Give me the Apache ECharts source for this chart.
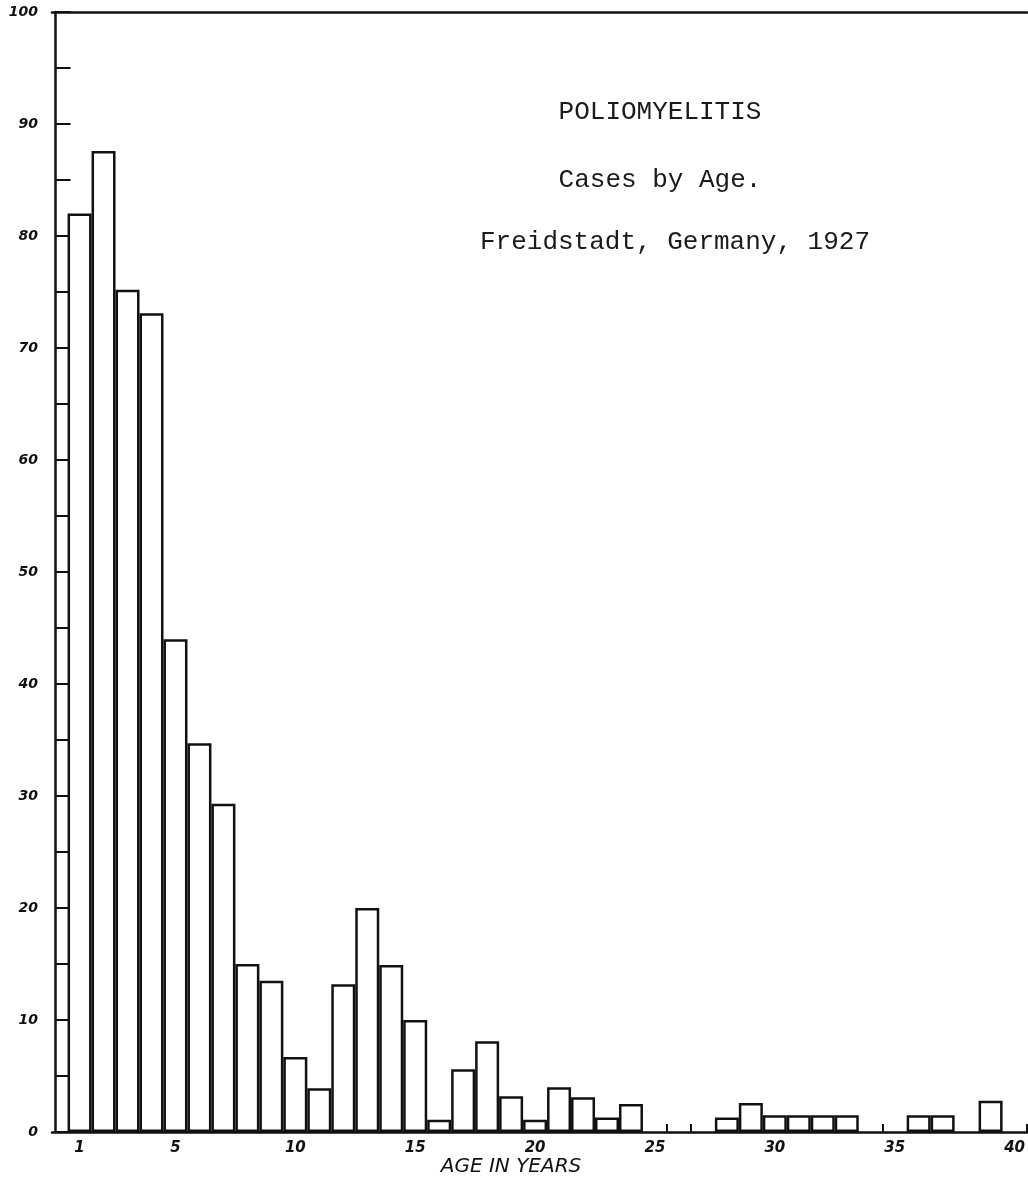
<!DOCTYPE html>
<html>
<head>
<meta charset="UTF-8">
<title>Poliomyelitis - Cases by Age</title>
<script src="https://cdn.jsdelivr.net/npm/echarts@6/dist/echarts.min.js"></script>
<style>
body {
    padding: 0;
    margin: 0;
    background: #fff;
}
#main { width: 1028px; height: 1182px; }
</style>
</head>
<body>
<div id="main"></div>
<script>
// ages 1..40, one bar per year of age
var ages = [1,2,3,4,5,6,7,8,9,10,11,12,13,14,15,16,17,18,19,20,
            21,22,23,24,25,26,27,28,29,30,31,32,33,34,35,36,37,38,39,40];
var cases = [82, 87.6, 75.2, 73.1, 44, 34.7, 29.3, 15, 13.5, 6.7,
             3.9, 13.2, 20, 14.9, 10, 1.1, 5.6, 8.1, 3.2, 1.1,
             4, 3.1, 1.3, 2.5, 0, 0, 0, 1.3, 2.6, 1.5,
             1.5, 1.5, 1.5, 0, 0, 1.5, 1.5, 0, 2.8, 0];
var xLabelAges = [1, 5, 10, 15, 20, 25, 30, 35, 40];
var xTickMarks = [25.5, 26.5, 34.5, 40.5];
var titleLines = ['POLIOMYELITIS', 'Cases by Age.', 'Freidstadt, Germany, 1927'];
var axisTitle = 'AGE IN YEARS';

var chart = echarts.init(document.getElementById('main'));

var typeStyle = {
    fontFamily: 'Liberation Mono',
    fontSize: 26,
    lineHeight: 26,
    fontWeight: 'normal',
    color: '#1a1a1a'
};
var handStyle = {
    fontFamily: 'DejaVu Sans',
    fontStyle: 'italic',
    fontWeight: 'bold',
    color: '#111'
};

var seriesData = ages.map(function (a, i) {
    return [a, cases[i] > 0 ? cases[i] : '-'];
});

var option = {
    animation: false,
    backgroundColor: '#fff',
    title: [
        { text: titleLines[0], left: 660, top: 99, textAlign: 'center', padding: 0, textStyle: typeStyle },
        { text: titleLines[1], left: 660, top: 167, textAlign: 'center', padding: 0, textStyle: typeStyle },
        { text: titleLines[2], left: 675, top: 229, textAlign: 'center', padding: 0, textStyle: typeStyle },
        { text: axisTitle, left: 511, top: 1157, textAlign: 'center', padding: 0,
          textStyle: Object.assign({}, handStyle, { fontSize: 20, fontWeight: 'normal' }) }
    ],
    grid: {
        left: 52,
        right: 0,
        top: 12,
        bottom: 50
    },
    xAxis: [{
        type: 'value',
        min: -0.15,
        max: 40.52,
        splitLine: { show: false },
        axisLine: { show: true, onZero: false, lineStyle: { color: '#111', width: 2.5 } },
        axisTick: {
            show: true,
            inside: true,
            length: 8,
            customValues: xTickMarks,
            lineStyle: { color: '#111', width: 2 }
        },
        axisLabel: Object.assign({
            fontSize: 15,
            margin: 9,
            customValues: xLabelAges
        }, handStyle)
    }, {
        type: 'value',
        position: 'top',
        min: -0.15,
        max: 40.52,
        splitLine: { show: false },
        axisLine: { show: true, onZero: false, lineStyle: { color: '#111', width: 2.5 } },
        axisTick: { show: false },
        axisLabel: { show: false }
    }],
    yAxis: {
        type: 'value',
        min: 0,
        max: 100,
        interval: 5,
        splitLine: { show: false },
        axisLine: { show: true, lineStyle: { color: '#111', width: 2.5 } },
        axisTick: {
            show: true,
            inside: true,
            length: 15,
            lineStyle: { color: '#111', width: 2 }
        },
        axisLabel: Object.assign({
            fontSize: 14,
            margin: 14,
            formatter: function (v) { return v % 10 === 0 ? String(v) : ''; }
        }, handStyle)
    },
    series: [{
        type: 'bar',
        xAxisIndex: 0,
        data: seriesData,
        barWidth: 24,
        itemStyle: {
            color: '#fff',
            borderColor: '#111',
            borderWidth: 2.5
        }
    }]
};
chart.setOption(option);
</script>
</body>
</html>
